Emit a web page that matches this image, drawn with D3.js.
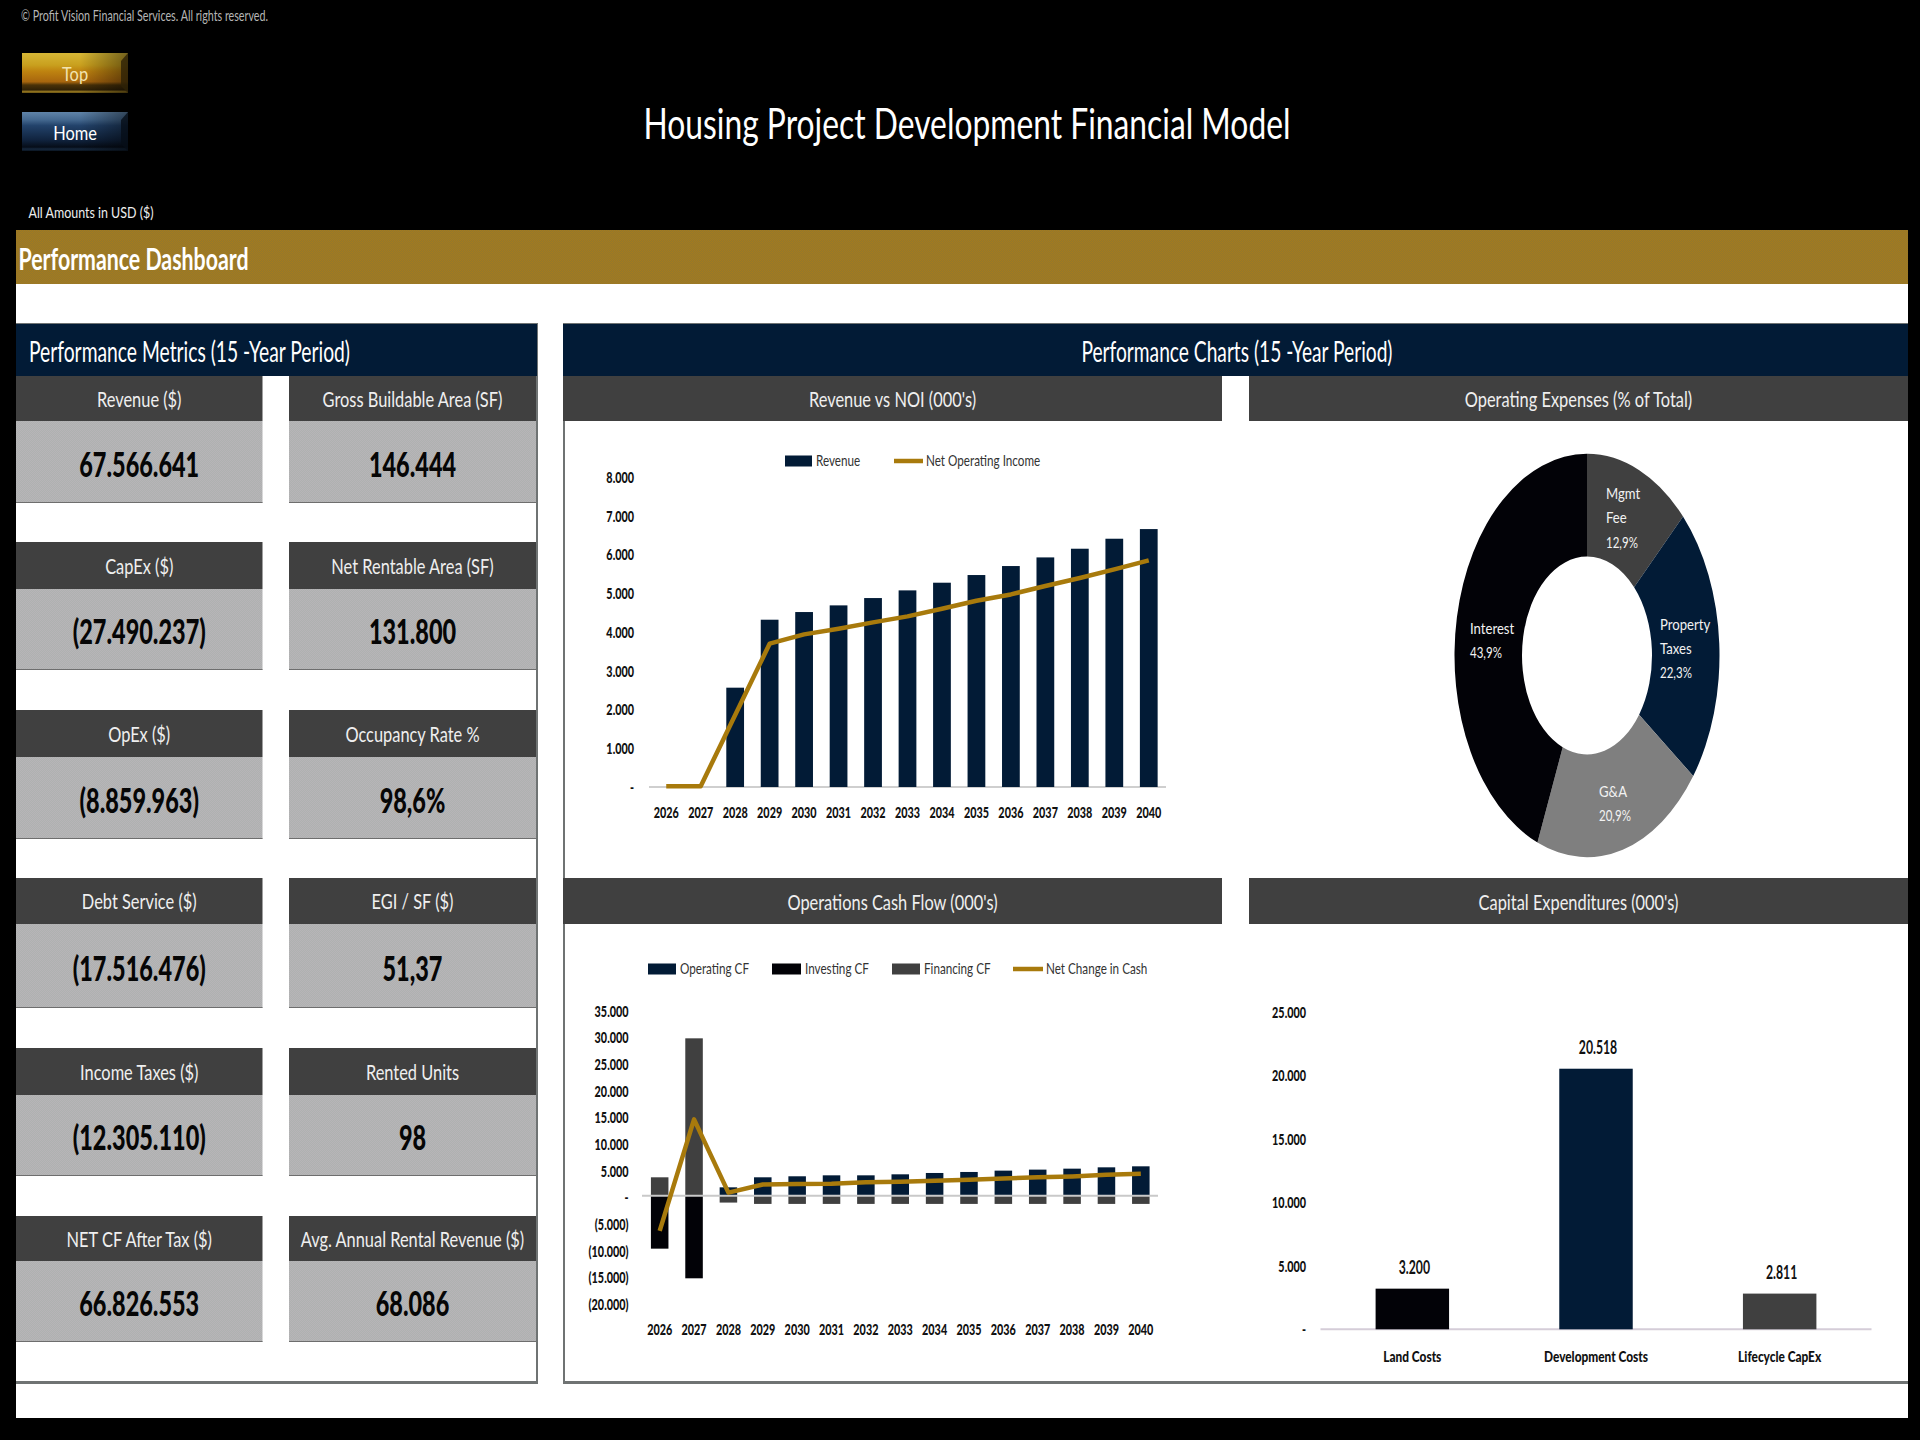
<!DOCTYPE html>
<html>
<head>
<meta charset="utf-8">
<title>Housing Project Development Financial Model</title>
<script src="https://cdn.jsdelivr.net/npm/d3@7"></script>
<style>
  html, body { margin: 0; padding: 0; background: #000; overflow: hidden; }
  svg { display: block; }
  text { font-family: Lato, "Liberation Sans", sans-serif; }
  .domain { display: none; }
</style>
</head>
<body>
<svg id="board" width="1920" height="1440"></svg>
<script>
// data
const years = ['2026','2027','2028','2029','2030','2031','2032','2033','2034','2035','2036','2037','2038','2039','2040'];
const revenue = [0, 0, 2563, 4317, 4515, 4687, 4876, 5074, 5272, 5470, 5702, 5925, 6149, 6407, 6656];
const noi = [20, 20, 1860, 3698, 3939, 4085, 4248, 4403, 4600, 4807, 4970, 5186, 5392, 5616, 5848];
const revenueTicks = [0, 1000, 2000, 3000, 4000, 5000, 6000, 7000, 8000];

const operatingCF = [0, 0, 1560, 3440, 3630, 3810, 3810, 4000, 4250, 4440, 4690, 4880, 5060, 5310, 5500];
const investingCF = [-9940, -15500, 0, 0, 0, 0, 0, 0, 0, 0, 0, 0, 0, 0, 0];
const financingCF = [3440, 29500, -1300, -1550, -1550, -1550, -1550, -1550, -1550, -1550, -1550, -1550, -1550, -1550, -1550];
const netChange = [-6600, 14300, 560, 2100, 2200, 2250, 2500, 2600, 2800, 3000, 3200, 3440, 3600, 3900, 4100];
const cashTicks = [-20000, -15000, -10000, -5000, 0, 5000, 10000, 15000, 20000, 25000, 30000, 35000];

const opexNames = ['Mgmt Fee', 'Property Taxes', 'G&A', 'Interest'];
const opexShares = [12.9, 22.3, 20.9, 43.9];

const capexNames = ['Land Costs', 'Development Costs', 'Lifecycle CapEx'];
const capexValues = [3200, 20518, 2811];
const capexTicks = [0, 5000, 10000, 15000, 20000, 25000];

const metricLabelsLeft = ['Revenue ($)', 'CapEx ($)', 'OpEx ($)', 'Debt Service ($)', 'Income Taxes ($)', 'NET CF After Tax ($)'];
const metricValuesLeft = ['67.566.641', '(27.490.237)', '(8.859.963)', '(17.516.476)', '(12.305.110)', '66.826.553'];
const metricLabelsRight = ['Gross Buildable Area (SF)', 'Net Rentable Area (SF)', 'Occupancy Rate %', 'EGI / SF ($)', 'Rented Units', 'Avg. Annual Rental Revenue ($)'];
const metricValuesRight = ['146.444', '131.800', '98,6%', '51,37', '98', '68.086'];

const navy = '#021b36', dark = '#404040', black = '#020207', midGray = '#7f7f7f', ochre = '#a87a0c', ink = '#111';

const svg = d3.select('#board');
const defs = svg.append('defs');

function gradient(id, stops, horizontal) {
    const g = defs.append('linearGradient').attr('id', id)
        .attr('x1', 0).attr('y1', 0).attr('x2', horizontal ? 1 : 0).attr('y2', horizontal ? 0 : 1);
    stops.forEach(s => g.append('stop').attr('offset', s[0]).attr('stop-color', s[1]).attr('stop-opacity', s[2] === undefined ? 1 : s[2]));
}
gradient('goldBtn', [[0, '#d6b636'], [0.3, '#c9a01e'], [0.45, '#bf8410'], [0.72, '#a8660e'], [0.8, '#4a3208'], [0.93, '#2e2006'], [0.95, '#9a7a20'], [1, '#6a5414']]);
gradient('blueBtn', [[0, '#5f83a8'], [0.2, '#44688f'], [0.35, '#22426a'], [0.72, '#10233e'], [0.9, '#060d18'], [0.95, '#16283e'], [1, '#0a1420']]);
gradient('btnShade', [[0, '#000', 0], [0.55, '#000', 0], [1, '#000', 0.45]], true);

// the sheet was saved with a coarse palette, so the flat fills show a fine dither
function dither(id, a, b) {
    const p = defs.append('pattern').attr('id', id).attr('width', 2).attr('height', 2).attr('patternUnits', 'userSpaceOnUse');
    p.append('rect').attr('width', 2).attr('height', 2).attr('fill', a);
    p.append('rect').attr('width', 1).attr('height', 1).attr('fill', b);
    p.append('rect').attr('x', 1).attr('y', 1).attr('width', 1).attr('height', 1).attr('fill', b);
}
dither('goldFill', '#92782e', '#a67a1c');
dither('cardFill', '#aeb2b0', '#b8b4b8');

function box(x, y, w, h, fill) {
    return svg.append('rect').attr('x', x).attr('y', y).attr('width', w).attr('height', h).attr('fill', fill);
}

// the source sheet is squeezed sideways, so every text gets narrowed to a share of its natural width
function condense(sel, k) {
    sel.each(function () {
        const len = this.getComputedTextLength();
        d3.select(this).attr('textLength', len * k).attr('lengthAdjust', 'spacingAndGlyphs');
    });
}

function label(parent, str, x, y, opts = {}) {
    const t = parent.append('text')
        .attr('x', x).attr('y', y - 1.5)
        .attr('dominant-baseline', 'central')
        .attr('text-anchor', opts.anchor || 'middle')
        .attr('font-size', opts.size || 14)
        .attr('font-weight', opts.weight || 400)
        .attr('fill', opts.fill || ink)
        .text(str);
    if (opts.width) t.attr('textLength', opts.width).attr('lengthAdjust', 'spacingAndGlyphs');
    else if (opts.k) condense(t, opts.k);
    return t;
}

// page frame
box(0, 0, 1920, 1440, '#000');
box(16, 284, 1892, 1134, '#fff');
box(16, 230, 1892, 54, 'url(#goldFill)');

label(svg, '© Profit Vision Financial Services. All rights reserved.', 21, 16, { anchor: 'start', size: 15, fill: '#b5b5b5', width: 247 });
label(svg, 'All Amounts in  USD ($)', 28.5, 213, { anchor: 'start', size: 16, fill: '#eee', width: 125 });
label(svg, 'Housing Project Development Financial Model', 967, 124, { size: 42, fill: '#fff', width: 647 });
label(svg, 'Performance Dashboard', 18.5, 259, { anchor: 'start', size: 30, weight: 700, fill: '#fff', width: 230 });

// nav buttons
function navButton(y, h, fill, edge, name, colour) {
    box(22, y, 106, h, fill);
    box(22, y, 106, h, 'url(#btnShade)');
    svg.append('path').attr('fill', edge).attr('opacity', 0.8)
        .attr('d', `M128,${y} L128,${y + h} L121,${y + h - 7} L121,${y + 8} Z`);
    label(svg, name, 75, y + 21, { size: 20, fill: colour, k: 0.82 });
}
navButton(53, 40, 'url(#goldBtn)', '#2e2206', 'Top', '#f2e4b0');
navButton(112, 39, 'url(#blueBtn)', '#060e18', 'Home', '#fff');

// panel outlines
const borderGray = '#6f7373';
box(16, 323, 521, 1, borderGray);
box(536, 323, 2, 1061, borderGray);
box(16, 1381, 522, 3, borderGray);
box(563, 323, 1345, 1, borderGray);
box(563, 323, 2, 1061, borderGray);
box(563, 1381, 1345, 3, borderGray);

box(16, 324, 521, 52, navy);
box(563, 324, 1345, 52, navy);
label(svg, 'Performance Metrics (15 -Year Period)', 29, 352, { anchor: 'start', size: 28, fill: '#fff', width: 321 });
label(svg, 'Performance Charts (15 -Year Period)', 1237, 352, { size: 28, fill: '#fff', width: 311 });

// metric cards
const rowTops = [376, 542, 710, 878, 1048, 1216];
const rowMids = [421, 589, 757, 924, 1095, 1261];
const rowEnds = [503, 670, 839, 1008, 1176, 1342];

function metricColumn(x, w, names, values) {
    names.forEach((name, i) => {
        box(x, rowTops[i], w, rowMids[i] - rowTops[i], dark);
        box(x, rowMids[i], w, rowEnds[i] - rowMids[i], 'url(#cardFill)');
        box(x, rowEnds[i] - 1, w, 1, '#6e6e6e');
        label(svg, name, x + w / 2, (rowTops[i] + rowMids[i]) / 2 + 1, { size: 22, fill: '#efefef', k: 0.745 });
        label(svg, values[i], x + w / 2, (rowMids[i] + rowEnds[i]) / 2 + 2, { size: 35, weight: 900, fill: '#060606', k: 0.67 });
    });
}
metricColumn(16, 246.5, metricLabelsLeft, metricValuesLeft);
metricColumn(289, 247, metricLabelsRight, metricValuesRight);

// chart sub headers
[[563, 'Revenue vs NOI (000\'s)'], [1249, 'Operating Expenses (% of Total)']].forEach(d => {
    box(d[0], 376, 659, 45, dark);
    label(svg, d[1], d[0] + 329.5, 400, { size: 22, fill: '#efefef', k: 0.745 });
});
[[563, 'Operations Cash Flow (000\'s)'], [1249, 'Capital Expenditures (000\'s)']].forEach(d => {
    box(d[0], 878, 659, 46, dark);
    label(svg, d[1], d[0] + 329.5, 903, { size: 22, fill: '#efefef', k: 0.745 });
});

// axis helpers
const locale = d3.formatLocale({ decimal: ',', thousands: '.', grouping: [3], currency: ['', ''] });
const fmtGroup = locale.format(',d');
function fmtAccounting(v) {
    if (v === 0) return '-';
    return v < 0 ? `(${fmtGroup(-v)})` : fmtGroup(v);
}

function styleTicks(g, k) {
    g.selectAll('text')
        .attr('dy', '0.35em').attr('font-size', 15).attr('font-weight', 900).attr('fill', ink)
        .style('font-family', 'Lato, sans-serif')
        .call(condense, k);
    return g;
}

function leftAxis(scale, ticks, x) {
    const g = svg.append('g').attr('transform', `translate(${x},0)`)
        .call(d3.axisLeft(scale).tickValues(ticks).tickFormat(fmtAccounting).tickSize(0).tickPadding(0));
    return styleTicks(g, 0.72);
}

function bottomAxis(scale, y, k) {
    const g = svg.append('g').attr('transform', `translate(0,${y})`)
        .call(d3.axisBottom(scale).tickSize(0).tickPadding(0));
    return styleTicks(g, k);
}

function baseline(x0, x1, y, colour) {
    svg.append('line').attr('x1', x0).attr('x2', x1).attr('y1', y).attr('y2', y)
        .attr('stroke', colour).attr('stroke-width', 2);
}

function drawLine(x, y, values) {
    const path = d3.line().x((d, i) => x(years[i]) + x.bandwidth() / 2).y(d => y(d));
    svg.append('path').attr('d', path(values))
        .attr('fill', 'none').attr('stroke', ochre).attr('stroke-width', 4.5).attr('stroke-linejoin', 'round');
}

function legendSwatch(x, w, y, colour, name) {
    box(x, y - 5.5, w, 11, colour);
    label(svg, name, x + w + 4, y, { anchor: 'start', size: 16, fill: '#333', k: 0.73 });
}

function legendLine(x, w, y, name) {
    svg.append('line').attr('x1', x).attr('x2', x + w).attr('y1', y).attr('y2', y)
        .attr('stroke', ochre).attr('stroke-width', 4.5);
    label(svg, name, x + w + 3, y, { anchor: 'start', size: 16, fill: '#333', k: 0.73 });
}

// Revenue vs NOI
{
    const x = d3.scaleBand().domain(years).range([649, 1166]).paddingInner(0.485).paddingOuter(0.2425);
    const y = d3.scaleLinear().domain([0, 8000]).range([787, 477]);
    leftAxis(y, revenueTicks, 634);
    bottomAxis(x, 813, 0.72);
    baseline(649, 1166, y(0), '#cfcfcf');
    svg.append('g').selectAll('rect').data(revenue).join('rect')
        .attr('x', (d, i) => x(years[i])).attr('width', x.bandwidth())
        .attr('y', d => y(d)).attr('height', d => y(0) - y(d))
        .attr('fill', navy);
    drawLine(x, y, noi);
    legendSwatch(785, 27, 461, navy, 'Revenue');
    legendLine(894, 29, 461, 'Net Operating Income');
}

// Operating expenses donut, stretched the same way as the sheet
{
    const pie = d3.pie().sort(null).value(d => d);
    const arc = d3.arc().innerRadius(65).outerRadius(132.5);
    const colours = [dark, navy, midGray, black];
    const g = svg.append('g').attr('transform', 'translate(1587,655.5) scale(1,1.522)');
    g.selectAll('path').data(pie(opexShares)).join('path')
        .attr('d', arc).attr('fill', (d, i) => colours[i]);
    const txt = { size: 16, anchor: 'start', fill: '#f2f2f2', k: 0.82 };
    const num = { size: 16, anchor: 'start', fill: '#f2f2f2', k: 0.72 };
    const pct = s => String(s).replace('.', ',') + '%';
    label(svg, 'Mgmt', 1606, 494, txt);
    label(svg, 'Fee', 1606, 518, txt);
    label(svg, pct(opexShares[0]), 1606, 543, num);
    label(svg, 'Property', 1660, 625, txt);
    label(svg, 'Taxes', 1660, 649, txt);
    label(svg, pct(opexShares[1]), 1660, 673, num);
    label(svg, opexNames[2], 1599, 792, txt);
    label(svg, pct(opexShares[2]), 1599, 816, num);
    label(svg, opexNames[3], 1470, 629, txt);
    label(svg, pct(opexShares[3]), 1470, 653, num);
}

// Operations cash flow, diverging stack
{
    const x = d3.scaleBand().domain(years).range([642.5, 1158]).paddingInner(0.49).paddingOuter(0.245);
    const y = d3.scaleLinear().domain([-20000, 35000]).range([1302.3, 1009]);
    const table = years.map((yr, i) => ({ year: yr, operating: operatingCF[i], investing: investingCF[i], financing: financingCF[i] }));
    const keys = ['operating', 'investing', 'financing'];
    const colour = { operating: navy, investing: black, financing: dark };
    const stack = d3.stack().keys(keys).offset(d3.stackOffsetDiverging)(table);
    leftAxis(y, cashTicks, 628.5).attr('transform', 'translate(628.5,2)');
    bottomAxis(x, 1330, 0.72);
    svg.append('g').selectAll('g').data(stack).join('g')
        .attr('fill', d => colour[d.key])
        .selectAll('rect').data(d => d).join('rect')
        .attr('x', d => x(d.data.year)).attr('width', x.bandwidth())
        .attr('y', d => y(d[1])).attr('height', d => y(d[0]) - y(d[1]));
    baseline(642, 1158, y(0), '#c9c9c9');
    drawLine(x, y, netChange);
    legendSwatch(648, 28, 969, navy, 'Operating CF');
    legendSwatch(772, 29, 969, black, 'Investing CF');
    legendSwatch(892, 28, 969, dark, 'Financing CF');
    legendLine(1013, 30, 969, 'Net Change in Cash');
}

// Capital expenditures
{
    const x = d3.scaleBand().domain(capexNames).range([1320.5, 1871.5]).paddingInner(0.6).paddingOuter(0.3);
    const y = d3.scaleLinear().domain([0, 25000]).range([1329.3, 1011.8]);
    const colours = [black, navy, dark];
    leftAxis(y, capexTicks, 1306);
    bottomAxis(x, 1357, 0.79);
    baseline(1320.5, 1871.5, y(0), '#d5cdd8');
    svg.append('g').selectAll('rect').data(capexValues).join('rect')
        .attr('x', (d, i) => x(capexNames[i])).attr('width', x.bandwidth())
        .attr('y', d => y(d)).attr('height', d => y(0) - y(d))
        .attr('fill', (d, i) => colours[i]);
    capexValues.forEach((v, i) => {
        label(svg, fmtGroup(v), x(capexNames[i]) + x.bandwidth() / 2 + 2, y(v) - 20, { size: 18, weight: 700, fill: '#111', k: 0.68 });
    });
}
</script>
</body>
</html>
